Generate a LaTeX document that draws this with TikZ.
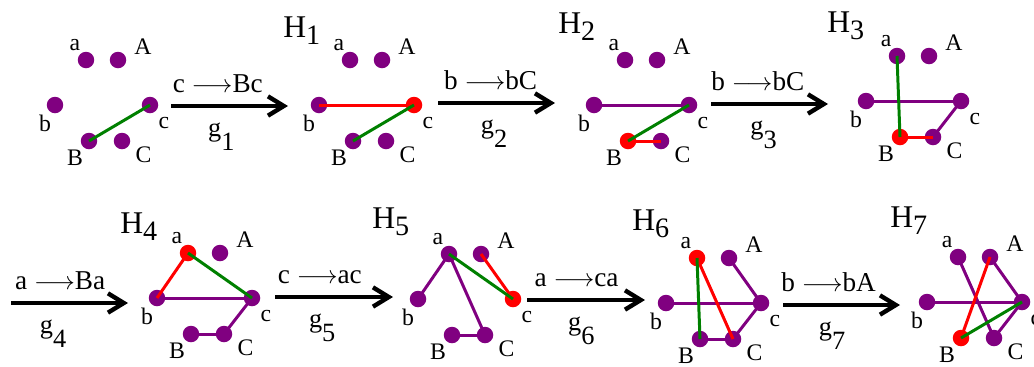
\documentclass[tikz,border=0pt]{standalone}
\usepackage{fontspec}
\setmainfont{Liberation Serif}
\usetikzlibrary{arrows.meta}
\definecolor{vpurple}{RGB}{128,0,128}
\definecolor{vgreen}{RGB}{0,128,0}
\definecolor{vred}{RGB}{255,0,0}
\newcommand{\hsub}[1]{H\raisebox{-4pt}{\fontsize{16}{16}\selectfont #1}}
\newcommand{\gsub}[1]{g\raisebox{-8pt}{#1}}

\begin{document}
\begin{tikzpicture}[x=0.02cm, y=-0.02cm,
  dot/.style={circle, fill=vpurple, inner sep=0pt, minimum size=0.33cm},
  lbl/.style={font=\fontsize{13.5}{15}\selectfont, inner sep=0pt},
  pedge/.style={vpurple, line width=1.7pt},
  redge/.style={vred, line width=1.7pt},
  gedge/.style={vgreen, line width=1.7pt},
  rewrite/.style={line width=2.5pt, -{Straight Barb[length=9pt, width=11pt]}},
  rulelbl/.style={font=\fontsize{15.5}{17}\selectfont},
  gname/.style={font=\fontsize{15}{17}\selectfont},
  hname/.style={font=\fontsize{18}{20}\selectfont, anchor=base west, inner sep=0pt}]
  \useasboundingbox (0,0) rectangle (1034,366);
  % vertices of each graph, red one marked by \r
  \foreach \g/\x/\y/\r in {0/86/60/none, 1/350/60/c, 2/625/60/B, 3/897/56/B,
                           4/188/253/a, 5/449/254/c, 6/697/258/a, 7/958/257/B}{
    \edef\hotdef{\noexpand\tikzset{hot\r/.style={fill=vred}}}\hotdef
    \node[dot, hota/.try, label={[lbl, xshift=-0.22cm, yshift=0.29cm]center:a}] (a\g) at (\x,\y) {};
    \node[dot, hotA/.try, label={[lbl, xshift=0.5cm, yshift=0.27cm]center:A}] (A\g) at (\x+32,\y) {};
    \node[dot, hotb/.try, label={[lbl, xshift=-0.2cm, yshift=-0.37cm]center:b}] (b\g) at (\x-31,\y+45) {};
    \node[dot, hotc/.try, label={[lbl, xshift=0.28cm, yshift=-0.36cm]center:c}] (c\g) at (\x+64,\y+45) {};
    \node[dot, hotB/.try, label={[lbl, xshift=-0.28cm, yshift=-0.33cm]center:B}] (B\g) at (\x+3,\y+81) {};
    \node[dot, hotC/.try, label={[lbl, xshift=0.43cm, yshift=-0.28cm]center:C}] (C\g) at (\x+36,\y+81) {};
  }
  % graph names
  \node[hname] (h1) at (283,37) {\hsub{1}};
  \node[hname] (h2) at (558,33) {\hsub{2}};
  \node[hname] (h3) at (827,32) {\hsub{3}};
  \node[hname] (h4) at (120,233) {\hsub{4}};
  \node[hname] (h5) at (372,228) {\hsub{5}};
  \node[hname] (h6) at (632,230) {\hsub{6}};
  \node[hname] (h7) at (890,227) {\hsub{7}};
  % edges
  \draw[gedge] (B0.center) -- (c0.center);
  \draw[redge] (b1.center) -- (c1.center);
  \draw[gedge] (B1.center) -- (c1.center);
  \draw[pedge] (b2.center) -- (c2.center);
  \draw[redge] (B2.center) -- (C2.center);
  \draw[gedge] (B2.center) -- (c2.center);
  \draw[pedge] (b3.center) -- (c3.center);
  \draw[pedge] (C3.center) -- (c3.center);
  \draw[redge] (B3.center) -- (C3.center);
  \draw[gedge] (a3.center) -- (B3.center);
  \draw[pedge] (b4.center) -- (c4.center);
  \draw[pedge] (c4.center) -- (C4.center);
  \draw[pedge] (B4.center) -- (C4.center);
  \draw[redge] (a4.center) -- (b4.center);
  \draw[gedge] (a4.center) -- (c4.center);
  \draw[pedge] (a5.center) -- (b5.center);
  \draw[pedge] (a5.center) -- (C5.center);
  \draw[pedge] (B5.center) -- (C5.center);
  \draw[redge] (A5.center) -- (c5.center);
  \draw[gedge] (a5.center) -- (c5.center);
  \draw[pedge] (A6.center) -- (c6.center);
  \draw[pedge] (b6.center) -- (c6.center);
  \draw[pedge] (c6.center) -- (C6.center);
  \draw[pedge] (B6.center) -- (C6.center);
  \draw[redge] (a6.center) -- (C6.center);
  \draw[gedge] (a6.center) -- (B6.center);
  \draw[pedge] (a7.center) -- (C7.center);
  \draw[pedge] (A7.center) -- (c7.center);
  \draw[pedge] (b7.center) -- (c7.center);
  \draw[pedge] (c7.center) -- (C7.center);
  \draw[redge] (A7.center) -- (B7.center);
  \draw[gedge] (c7.center) -- (B7.center);
  % rewriting steps
  \coordinate (s1) at (171,106); \coordinate (t1) at (288,106);
  \coordinate (s2) at (438,103); \coordinate (t2) at (555,103);
  \coordinate (s3) at (711,104); \coordinate (t3) at (828,104);
  \coordinate (s4) at (11,303);  \coordinate (t4) at (128,303);
  \coordinate (s5) at (275,297); \coordinate (t5) at (393,297);
  \coordinate (s6) at (527,300); \coordinate (t6) at (645,300);
  \coordinate (s7) at (783,305); \coordinate (t7) at (900,305);
  \draw[rewrite] (s1) -- node[rulelbl, pos=0.4, above=3pt] {c $\longrightarrow$Bc} node[gname, pos=0.43, below=5pt] {\gsub{1}} (t1);
  \draw[rewrite] (s2) -- node[rulelbl, pos=0.45, above=3pt] {b $\longrightarrow$bC} node[gname, pos=0.48, below=5pt] {\gsub{2}} (t2);
  \draw[rewrite] (s3) -- node[rulelbl, pos=0.4, above=3pt] {b $\longrightarrow$bC} node[gname, pos=0.45, below=5pt] {\gsub{3}} (t3);
  \draw[rewrite] (s4) -- node[rulelbl, pos=0.42, above=3pt] {a $\longrightarrow$Ba} node[gname, pos=0.36, below=5pt] {\gsub{4}} (t4);
  \draw[rewrite] (s5) -- node[rulelbl, pos=0.38, above=3pt] {c $\longrightarrow$ac} node[gname, pos=0.4, below=5pt] {\gsub{5}} (t5);
  \draw[rewrite] (s6) -- node[rulelbl, pos=0.42, above=3pt] {a $\longrightarrow$ca} node[gname, pos=0.46, below=5pt] {\gsub{6}} (t6);
  \draw[rewrite] (s7) -- node[rulelbl, pos=0.39, above=3pt] {b $\longrightarrow$bA} node[gname, pos=0.42, below=5pt] {\gsub{7}} (t7);
\end{tikzpicture}
\end{document}
